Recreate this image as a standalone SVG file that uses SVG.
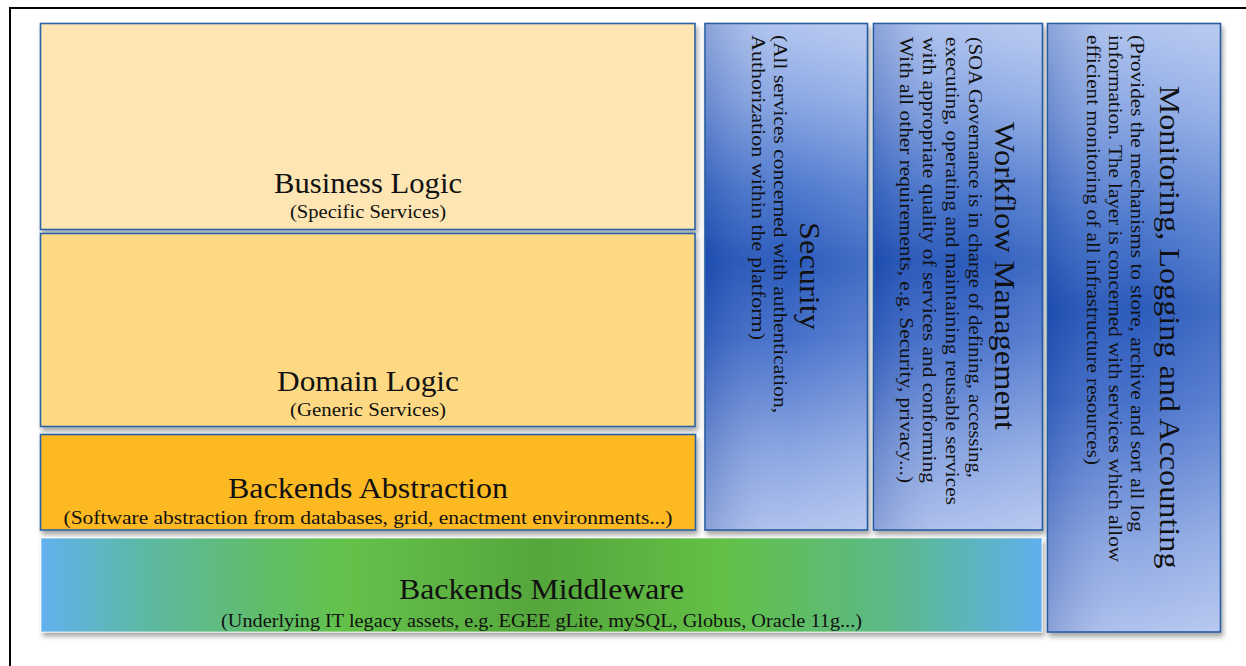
<svg xmlns="http://www.w3.org/2000/svg" width="1246" height="666" viewBox="0 0 1246 666">
  <defs>
    <filter id="shadow" x="-5%" y="-5%" width="112%" height="115%">
      <feDropShadow dx="2" dy="4" stdDeviation="2.5" flood-color="#000" flood-opacity="0.35"/>
    </filter>
    <linearGradient id="blueV" x1="0" y1="0" x2="0" y2="1">
      <stop offset="0" stop-color="#afc3ee"/>
      <stop offset="0.15" stop-color="#86a4e3"/>
      <stop offset="0.33" stop-color="#4572cb"/>
      <stop offset="0.47" stop-color="#2253b9"/>
      <stop offset="0.62" stop-color="#3e6ac8"/>
      <stop offset="0.85" stop-color="#87a3e1"/>
      <stop offset="1" stop-color="#adc0ed"/>
    </linearGradient>
    <linearGradient id="blueH" x1="0" y1="0" x2="1" y2="0">
      <stop offset="0" stop-color="#0a2f8a" stop-opacity="0.22"/>
      <stop offset="0.5" stop-color="#ffffff" stop-opacity="0.04"/>
      <stop offset="1" stop-color="#ffffff" stop-opacity="0.15"/>
    </linearGradient>
    <linearGradient id="greenH" x1="0" y1="0" x2="1" y2="0">
      <stop offset="0" stop-color="#62b1ee"/>
      <stop offset="0.1" stop-color="#5db8a6"/>
      <stop offset="0.22" stop-color="#5fbd6a"/>
      <stop offset="0.3" stop-color="#64c24b"/>
      <stop offset="0.5" stop-color="#55a63b"/>
      <stop offset="0.68" stop-color="#62c046"/>
      <stop offset="0.85" stop-color="#5bb989"/>
      <stop offset="1" stop-color="#5fb0ee"/>
    </linearGradient>
    <style>
      .box { stroke: #2b62a3; stroke-width: 1.6; }
      .col { stroke: #275c9f; stroke-width: 1.6; }
      .t { font-family: "Liberation Serif", "DejaVu Serif", serif; fill: #111; }
      .title { font-size: 29px; }
      .sub { font-size: 18px; }
      .mid { text-anchor: middle; }
    </style>
  </defs>

  <rect x="0" y="0" width="1246" height="666" fill="#ffffff"/>
  <rect id="frame" x="10" y="8" width="1260" height="700" fill="none" stroke="#000" stroke-width="2"/>

  <g id="business-logic">
    <rect class="box" x="40.5" y="23.5" width="654.5" height="206" fill="#fde6b3" filter="url(#shadow)"/>
    <text class="t title mid" x="368" y="193" textLength="188" lengthAdjust="spacingAndGlyphs">Business Logic</text>
    <text class="t sub mid" x="368" y="218" textLength="156" lengthAdjust="spacingAndGlyphs">(Specific Services)</text>
  </g>

  <g id="domain-logic">
    <rect class="box" x="40.5" y="233.5" width="654.5" height="193" fill="#fdd984" filter="url(#shadow)"/>
    <text class="t title mid" x="368" y="391" textLength="182" lengthAdjust="spacingAndGlyphs">Domain Logic</text>
    <text class="t sub mid" x="368" y="416" textLength="156" lengthAdjust="spacingAndGlyphs">(Generic Services)</text>
  </g>

  <g id="backends-abstraction">
    <rect class="box" x="40.5" y="434.5" width="655" height="95.5" fill="#fdb923" filter="url(#shadow)"/>
    <text class="t title mid" x="368" y="498" textLength="280" lengthAdjust="spacingAndGlyphs">Backends Abstraction</text>
    <text class="t sub mid" x="368" y="524" textLength="609" lengthAdjust="spacingAndGlyphs">(Software abstraction from databases, grid, enactment environments...)</text>
  </g>

  <g id="backends-middleware">
    <rect x="41" y="538" width="1001" height="94" fill="url(#greenH)" stroke="#ffffff" stroke-opacity="0.45" stroke-width="1.5" filter="url(#shadow)"/>
    <text class="t title mid" x="541.5" y="599" textLength="285" lengthAdjust="spacingAndGlyphs">Backends Middleware</text>
    <text class="t sub mid" x="541.5" y="627" textLength="641" lengthAdjust="spacingAndGlyphs">(Underlying IT legacy assets, e.g. EGEE gLite, mySQL, Globus, Oracle 11g...)</text>
  </g>

  <g id="security">
    <rect class="col" x="705" y="23.5" width="162.5" height="506.5" fill="url(#blueV)" filter="url(#shadow)"/>
    <rect x="706" y="24.5" width="160.5" height="504.5" fill="url(#blueH)"/>
    <text class="t title mid" transform="translate(800,276) rotate(90)" textLength="108" lengthAdjust="spacingAndGlyphs">Security</text>
    <text class="t sub" transform="translate(774,35) rotate(90)" textLength="378" lengthAdjust="spacingAndGlyphs">(All services concerned with authentication,</text>
    <text class="t sub" transform="translate(752,35) rotate(90)" textLength="305" lengthAdjust="spacingAndGlyphs">Authorization  within the platform)</text>
  </g>

  <g id="workflow-management">
    <rect class="col" x="873.5" y="23.5" width="169" height="506.5" fill="url(#blueV)" filter="url(#shadow)"/>
    <rect x="874.5" y="24.5" width="167" height="504.5" fill="url(#blueH)"/>
    <text class="t title mid" transform="translate(995,276) rotate(90)" textLength="308" lengthAdjust="spacingAndGlyphs">Workflow Management</text>
    <text class="t sub" transform="translate(969,37) rotate(90)" textLength="441" lengthAdjust="spacingAndGlyphs">(SOA Governance is in charge of defining, accessing,</text>
    <text class="t sub" transform="translate(946,37) rotate(90)" textLength="468" lengthAdjust="spacingAndGlyphs">executing, operating and maintaining reusable services</text>
    <text class="t sub" transform="translate(923,37) rotate(90)" textLength="446" lengthAdjust="spacingAndGlyphs">with appropriate quality of services and conforming</text>
    <text class="t sub" transform="translate(900,37) rotate(90)" textLength="446" lengthAdjust="spacingAndGlyphs">With all other  requirements, e.g. Security, privacy...)</text>
  </g>

  <g id="monitoring-logging-accounting">
    <rect class="col" x="1047.5" y="23.5" width="173" height="608.5" fill="url(#blueV)" filter="url(#shadow)"/>
    <rect x="1048.5" y="24.5" width="171" height="606.5" fill="url(#blueH)"/>
    <text class="t title mid" transform="translate(1160,327) rotate(90)" textLength="483" lengthAdjust="spacingAndGlyphs">Monitoring, Logging and Accounting</text>
    <text class="t sub" transform="translate(1131,35) rotate(90)" textLength="497" lengthAdjust="spacingAndGlyphs">(Provides the mechanisms to store, archive and sort all log</text>
    <text class="t sub" transform="translate(1109,35) rotate(90)" textLength="527" lengthAdjust="spacingAndGlyphs">information. The layer is concerned with services which allow</text>
    <text class="t sub" transform="translate(1087,35) rotate(90)" textLength="430" lengthAdjust="spacingAndGlyphs">efficient monitoring  of all infrastructure resources)</text>
  </g>

  <g id="connectors"></g>
</svg>
